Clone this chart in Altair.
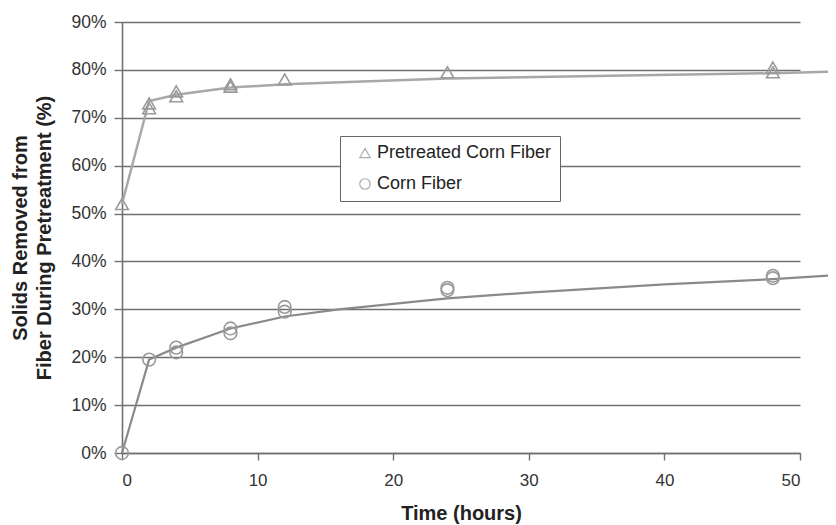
import altair as alt
import pandas as pd

# Measured points
pre_t = [0, 2, 2, 4, 4, 8, 8, 12, 24, 48, 48]
pre_v = [0.52, 0.72, 0.73, 0.745, 0.755, 0.765, 0.77, 0.78, 0.795, 0.805, 0.795]
corn_t = [0, 2, 4, 4, 8, 8, 12, 12, 24, 24, 48, 48]
corn_v = [0.0, 0.195, 0.22, 0.21, 0.25, 0.26, 0.295, 0.305, 0.34, 0.345, 0.365, 0.37]

# Fitted curves
pre_fit_t = [0, 2, 4, 8, 12, 24, 36, 48, 53]
pre_fit_v = [0.52, 0.735, 0.748, 0.763, 0.770, 0.782, 0.788, 0.793, 0.797]
corn_fit_t = [0, 2, 4, 8, 12, 16, 24, 30, 40, 48, 53]
corn_fit_v = [0.0, 0.195, 0.22, 0.26, 0.285, 0.30, 0.323, 0.335, 0.352, 0.363, 0.372]

series_names = ["Pretreated Corn Fiber", "Corn Fiber"]

pts = pd.DataFrame(
    {"t": pre_t + corn_t,
     "v": pre_v + corn_v,
     "s": [series_names[0]] * len(pre_t) + [series_names[1]] * len(corn_t)}
)
fit = pd.DataFrame(
    {"t": pre_fit_t + corn_fit_t,
     "v": pre_fit_v + corn_fit_v,
     "fs": ["fit " + series_names[0]] * len(pre_fit_t) + ["fit " + series_names[1]] * len(corn_fit_t)}
)

xs = alt.Scale(domain=[0, 50], nice=False)
ys = alt.Scale(domain=[0, 0.9], nice=False)

x_enc = alt.X("t:Q", scale=xs,
              axis=alt.Axis(title="Time (hours)", values=[0, 10, 20, 30, 40, 50],
                            grid=False, tickSize=7, labelPadding=12, titlePadding=15,
                            labelFontSize=17, titleFontSize=20))
y_enc = alt.Y("v:Q", scale=ys,
              axis=alt.Axis(title=["Solids Removed from", "Fiber During Pretreatment (%)"],
                            format=".0%", values=[i / 10 for i in range(10)],
                            grid=True, tickSize=8, labelPadding=8, titlePadding=16,
                            labelFontSize=17.5, titleFontSize=20, titleLineHeight=24))

lines = alt.Chart(fit).mark_line().encode(
    x=x_enc, y=y_enc,
    stroke=alt.Stroke("fs:N", scale=alt.Scale(domain=["fit " + n for n in series_names],
                                              range=["#a8a8a8", "#8a8a8a"]), legend=None),
    strokeWidth=alt.StrokeWidth("fs:N", scale=alt.Scale(domain=["fit " + n for n in series_names],
                                                         range=[2.5, 2.2]), legend=None),
)

points = alt.Chart(pts).mark_point(filled=False, size=160, strokeWidth=1.6, opacity=1).encode(
    x=x_enc, y=y_enc,
    shape=alt.Shape("s:N", scale=alt.Scale(domain=series_names, range=["triangle-up", "circle"]),
                    legend=alt.Legend(title=None, orient="none", legendX=218, legendY=114,
                                      fillColor="white", strokeColor="#666", padding=8,
                                      labelFontSize=18, labelColor="#222", symbolSize=110,
                                      symbolStrokeColor="#aaa", symbolFillColor="transparent",
                                      symbolStrokeWidth=1.2, rowPadding=13, labelLimit=300,
                                      symbolOffset=8, labelOffset=3)),
    color=alt.value("#9a9a9a"),
)

chart = alt.layer(lines, points).properties(
    width=678, height=431,
    autosize=alt.AutoSizeParams(type="none"),
    padding={"left": 114, "top": 14, "right": 28, "bottom": 80},
).configure_view(stroke=None).configure_axis(
    labelFont="Liberation Sans", titleFont="Liberation Sans",
    labelColor="#333", titleColor="#222",
    titleFontWeight="bold", domainColor="#707070", tickColor="#707070",
    gridColor="#707070", gridWidth=1.6, domainWidth=1.6, tickWidth=1.4,
).configure_legend(labelFont="Liberation Sans")

chart.save("out.html", embed_options={"renderer": "svg", "actions": False})
